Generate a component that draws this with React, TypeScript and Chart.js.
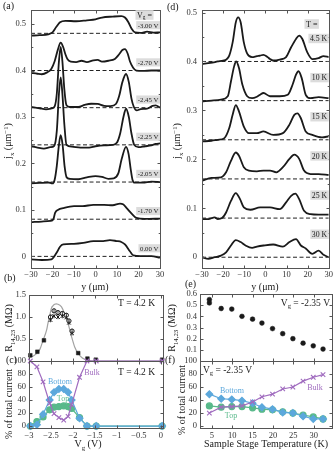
import React, { useEffect, useRef } from 'react';
import { Chart, registerables } from 'chart.js';

Chart.register(...registerables);

const PAGE_W = 335;
const PAGE_H = 453;
const FONT = "'Liberation Serif', 'Times New Roman', Times, serif";
const INK = '#1a1a1a';
const TICK_TEXT = '#333333';
const FRAME = '#555555';
const LABEL_BG = '#dcdcdc';
const PURPLE = '#a06cbf';
const BLUE = '#5ca8dc';
const GREEN = '#58b98a';
const FIT_GRAY = '#a3a3a3';

// ---------------- Panel (a): current density vs y for several gate voltages ----------------
const A_VG_LABELS = ['-3.00 V', '-2.70 V', '-2.45 V', '-2.25 V', '-2.05 V', '-1.70 V', '0.00 V'];
const A_OFFSETS = [0.48, 0.40, 0.32, 0.24, 0.16, 0.08, 0];
const JX_VG_M300 = [[-30,-0.005],[-26,-0.004],[-22,-0.002],[-20,0.002],[-18.2,0.014],[-16.5,0.024],[-14,0.027],[-9,0.026],[-4,0.028],[0,0.030],[3,0.034],[8,0.036],[12,0.037],[13.7,0.034],[15.3,0.024],[16.8,0.010],[18.4,0.002],[21,0.001],[24,0.0036],[27,0.0015],[30,0.002]];
const JX_VG_M270 = [[-30,-0.005],[-27,-0.007],[-25,-0.008],[-22.5,-0.004],[-20.5,0.004],[-19,0.02],[-17.5,0.045],[-16.2,0.06],[-15,0.05],[-14,0.035],[-13,0.024],[-11.5,0.019],[-9,0.018],[-6.5,0.021],[-4,0.018],[-1,0.022],[1,0.023],[3,0.019],[6,0.021],[9,0.025],[11,0.035],[12.5,0.044],[13.7,0.046],[15,0.036],[16,0.02],[17.5,0.006],[19,0],[22,-0.001],[26,0],[30,0]];
const JX_VG_M245 = [[-30,0.0015],[-26,-0.0015],[-23,-0.0035],[-20.5,-0.0015],[-19,0.003],[-18,0.03],[-17,0.1],[-16.2,0.131],[-15.4,0.1],[-14.5,0.04],[-13.5,0.005],[-12,0.0015],[-8,0.0015],[-5,0.006],[-2,0.0085],[1,0.008],[4,0.004],[7,0.0035],[9.5,0.008],[11,0.025],[12.5,0.055],[14.2,0.0725],[15.5,0.055],[16.7,0.02],[17.8,0.002],[19.2,-0.006],[21,-0.003],[24,-0.002],[26.5,0.004],[28,0.005],[30,0]];
const JX_VG_M225 = [[-30,-0.003],[-27,-0.006],[-24,-0.008],[-21,-0.005],[-19.2,-0.002],[-18,0.03],[-17,0.11],[-16.2,0.145],[-15.4,0.11],[-14.5,0.045],[-13.5,0],[-11,-0.004],[-7,-0.006],[-3,-0.006],[0,-0.003],[4,-0.001],[8,0],[10,0.005],[11.5,0.025],[13,0.06],[14.2,0.0777],[15.5,0.06],[16.7,0.025],[18,0],[20,-0.005],[23,-0.003],[26,-0.001],[28,0.002],[30,0.003]];
const JX_VG_M205 = [[-30,-0.003],[-26,-0.002],[-22,-0.001],[-20,-0.003],[-19,0.005],[-18,0.035],[-17,0.08],[-16.2,0.1007],[-15.3,0.08],[-14.4,0.035],[-13.4,0.01],[-12,0.007],[-8,0.006],[-4,0.01],[0,0.0128],[3,0.011],[6,0.007],[8.5,0.008],[10.6,0.0185],[12.2,0.05],[14.2,0.0757],[15.4,0.06],[16.3,0.03],[17.2,0.005],[18.2,-0.0014],[22,-0.0014],[26,0.0007],[30,0]];
const JX_VG_M170 = [[-30,-0.0064],[-25,-0.005],[-21,-0.0036],[-19.6,0],[-18.8,0.0135],[-17.3,0.0206],[-15,0.024],[-10,0.028],[-6,0.028],[-1,0.031],[4,0.031],[8,0.03],[11.4,0.0335],[12.8,0.032],[14.5,0.024],[16.8,0.012],[19,0.0028],[23,0.0006],[30,0.0013]];
const JX_VG_000 = [[-30,-0.0064],[-25,-0.0078],[-20.5,-0.0064],[-18.1,0.0078],[-16.5,0.0207],[-15,0.0256],[-10,0.027],[-5.7,0.029],[-1,0.033],[3.6,0.033],[6.7,0.035],[9.8,0.033],[12,0.031],[13.7,0.0256],[16,0.011],[17.6,0.002],[21,0.0007],[26,0.0007],[30,-0.0028]];
const A_CURVES = [JX_VG_M300, JX_VG_M270, JX_VG_M245, JX_VG_M225, JX_VG_M205, JX_VG_M170, JX_VG_000];
const A_X_RANGE = [-30, 30];
const A_Y_RANGE = [-0.025, 0.53];
const A_X_TICKS = [-30, -20, -10, 0, 10, 20, 30];
const A_Y_TICKS = [0, 0.1, 0.2, 0.3, 0.4, 0.5];
const A_Y_MINOR = [0.05, 0.15, 0.25, 0.35, 0.45];

// ---------------- Panel (d): current density vs y for several temperatures ----------------
const D_T_LABELS = ['4.5 K', '10 K', '15 K', '20 K', '25 K', '30 K'];
const D_OFFSETS = [0.40, 0.32, 0.24, 0.16, 0.08, 0];
const JX_T045 = [[-30,-0.005],[-26,-0.003],[-22.5,0],[-20,0.002],[-18.5,0.004],[-17.1,0.012],[-15.5,0.039],[-14,0.08],[-12.9,0.09],[-11.7,0.08],[-10.2,0.039],[-8.6,0.016],[-6.3,0.009],[-4,0.011],[-2.5,0.012],[-0.9,0.0136],[1,0.009],[2.2,0.005],[3.7,0.002],[6.8,0.004],[9.8,0.009],[12.2,0.029],[14.5,0.046],[16,0.053],[17.5,0.046],[19.8,0.019],[22.2,0.005],[25.2,0.007],[27.5,0.011],[30,0.009]];
const JX_T10 = [[-30,-0.0014],[-25.5,0],[-21,0.002],[-17.8,0.009],[-16.3,0.039],[-14.8,0.07],[-13.8,0.08],[-12.5,0.0665],[-10.9,0.033],[-8.6,0.009],[-6.3,0.005],[-4,0.008],[-2.5,0.012],[-0.9,0.0156],[2.2,0.009],[6.8,0.009],[10.6,0.012],[12.9,0.033],[14.5,0.053],[15.7,0.06],[17.2,0.046],[19.1,0.012],[21.4,0.005],[25.2,0.007],[30,0.005]];
const JX_T15 = [[-30,-0.0034],[-25.5,-0.002],[-22.5,0],[-19.4,0.0034],[-17.1,0.024],[-15.5,0.051],[-14,0.071],[-12.5,0.058],[-10.2,0.027],[-7.8,0.0136],[-4,0.0136],[-0.9,0.017],[3.7,0.010],[8.3,0.0136],[11.4,0.031],[13.7,0.051],[15.2,0.054],[16.8,0.044],[19.1,0.017],[22.2,0.010],[26.8,0.005],[30,0.007]];
const JX_T20 = [[-30,-0.0034],[-25.5,0.002],[-21,0.0034],[-18.6,0.0136],[-16.3,0.037],[-14,0.054],[-12.5,0.0475],[-10.2,0.024],[-7.8,0.017],[-4,0.0156],[-0.9,0.017],[2.2,0.017],[5.2,0.0136],[8.3,0.024],[11.4,0.041],[13.7,0.0496],[16,0.041],[18.3,0.017],[21.4,0.010],[25.2,0.010],[30,0.008]];
const JX_T25 = [[-30,-0.002],[-27,-0.002],[-24,0.0014],[-22.5,-0.002],[-20.5,0],[-18.6,0.0115],[-16.3,0.035],[-14,0.051],[-12,0.0387],[-10.2,0.0217],[-7.1,0.017],[-2.5,0.0217],[2.2,0.0217],[6.8,0.0183],[9.8,0.032],[12.2,0.0455],[14.2,0.050],[16,0.0387],[18.3,0.015],[21.4,0.008],[25.2,0.007],[30,0.007]];
const JX_T30 = [[-30,0],[-27,-0.0034],[-24,0],[-21,0.0034],[-18.6,0.010],[-16.3,0.024],[-14,0.035],[-11.7,0.031],[-9.4,0.024],[-6.3,0.019],[-4,0.0217],[-0.9,0.024],[3.7,0.026],[8.3,0.0217],[11.4,0.031],[14.5,0.037],[16.8,0.024],[19.1,0.018],[22.2,0.007],[25.2,0.0136],[27.5,0.005],[30,0]];
const D_CURVES = [JX_T045, JX_T10, JX_T15, JX_T20, JX_T25, JX_T30];
const D_X_RANGE = [-30, 30];
const D_Y_RANGE = [-0.022, 0.505];
const D_X_TICKS = [-30, -20, -10, 0, 10, 20, 30];
const D_Y_TICKS = [0, 0.1, 0.2, 0.3, 0.4, 0.5];
const D_Y_MINOR = [0.05, 0.15, 0.25, 0.35, 0.45];

// ---------------- Panel (b): resistance vs gate voltage ----------------
const B_SQ_VG = [-2.97, -2.81, -2.66, -1.88, -1.67, -1.48, 0.03];
const B_SQ_R = [0.13, 0.21, 0.47, 0.18, 0.055, 0.03, 0.03];
const B_CL_VG = [-2.51, -2.43, -2.34, -2.24, -2.15, -2.09, -2.02];
const B_CIRCLE_R = [1.0, 1.14, 1.10, 1.08, 1.04, 0.91, 0.68];
const B_CROSS_R = [0.93, 1.02, 1.0, 1.02, 0.99, 0.87, 0.63];
const B_ERR = 0.05;
const B_FIT_VG = [-3.0, -2.95, -2.85, -2.75, -2.68, -2.6, -2.57, -2.53, -2.49, -2.45, -2.415, -2.38, -2.34, -2.3, -2.26, -2.19, -2.11, -2.03, -1.96, -1.88, -1.8, -1.73, -1.65, -1.5, 0.05];
const B_FIT_R = [0.07, 0.09, 0.15, 0.27, 0.47, 0.7, 0.85, 1.03, 1.2, 1.26, 1.29, 1.3, 1.29, 1.27, 1.23, 1.08, 0.85, 0.55, 0.32, 0.17, 0.08, 0.04, 0.015, 0.0, 0.0];
const BC_X_RANGE = [-3, 0.05];
const B_Y_RANGE = [0, 1.5];
const BC_X_TICKS = [-3, -2.5, -2, -1.5, -1, -0.5, 0];
const B_Y_TICKS = [0.5, 1.0, 1.5];

// ---------------- Panel (c): current fractions vs gate voltage ----------------
const C_VG = [-2.97, -2.82, -2.68, -2.53, -2.43, -2.32, -2.21, -2.11, -2.03, -1.85, -1.68, -1.47, 0.03];
const C_BULK = [100, 91, 68, 35, 19, 13, 9, 15, 33, 75, 100, 100, 100];
const C_BOTTOM = [0, 2, 18, 40, 52, 57, 57, 52, 40, 12, 0, 0, 0];
const C_TOP = [0, 7, 14, 25, 29, 30, 31, 30, 27, 13, 0, 0, 0];
const C_Y_RANGE = [-3, 100];
const CF_Y_TICKS = [0, 20, 40, 60, 80, 100];

// ---------------- Panel (e): resistance vs temperature ----------------
const E_T = [4.4, 4.4, 7.3, 9.9, 12.4, 15.0, 17.3, 19.9, 22.4, 24.9, 27.4, 29.9, 32.3];
const E_R = [0.55, 0.52, 0.47, 0.465, 0.40, 0.375, 0.34, 0.29, 0.245, 0.20, 0.16, 0.136, 0.107];
const EF_X_RANGE = [2.1, 34.5];
const E_Y_RANGE = [0, 0.6];
const EF_X_TICKS = [5, 10, 15, 20, 25, 30];
const E_Y_TICKS = [0.1, 0.2, 0.3, 0.4, 0.5, 0.6];

// ---------------- Panel (f): current fractions vs temperature ----------------
const F_T = [4.4, 7.3, 9.9, 12.4, 15.0, 17.3, 19.9, 22.4, 24.9, 27.4, 29.9, 32.3];
const F_BOTTOM = [49, 42, 41, 39, 35, 29, 26, 21, 20, 15, 11, 11];
const F_TOP = [31, 29, 30, 30, 28, 26, 25, 22, 20, 17, 14, 11];
const F_BULK = [20, 29, 30, 31, 37, 45, 49, 57, 60, 69, 75, 79];
const F_Y_RANGE = [-3, 100];

// ---------------- helpers ----------------
const T = (t: string) => ({ t });
const SUB = (t: string) => ({ t, sub: true });
const SUP = (t: string) => ({ t, sup: true });

function drawRich(ctx: any, segs: any[], x: number, y: number, size: number, color: string, align: string, rot: number, bg?: string) {
  ctx.save();
  ctx.translate(x, y);
  if (rot) ctx.rotate(rot);
  const parts = segs.map((s) => {
    const fs = s.sub || s.sup ? size * 0.68 : size;
    ctx.font = `${fs}px ${FONT}`;
    return { s, fs, w: ctx.measureText(s.t).width };
  });
  const total = parts.reduce((a, p) => a + p.w, 0);
  let cx = align === 'center' ? -total / 2 : align === 'right' ? -total : 0;
  if (bg) {
    ctx.fillStyle = bg;
    ctx.fillRect(cx - 1.5, -size * 0.6, total + 3, size * 1.2);
  }
  ctx.textBaseline = 'alphabetic';
  ctx.textAlign = 'left';
  const base = size * 0.34;
  for (const p of parts) {
    ctx.font = `${p.fs}px ${FONT}`;
    ctx.fillStyle = p.s.color || color;
    const dy = p.s.sub ? size * 0.22 : p.s.sup ? -size * 0.38 : 0;
    ctx.fillText(p.s.t, cx, base + dy);
    cx += p.w;
  }
  ctx.restore();
}

const fmtSigned = (v: number) => (v < 0 ? '\u2212' + String(Math.abs(v)) : String(v));
const fmt1 = (v: number) => v.toFixed(1);
const fmtPlain = (v: number) => String(v);

function makeScale(axis: string, range: number[], ticks: number[], fmt: any, pad: number, size: number, showLabels = true) {
  return {
    type: 'linear',
    min: range[0],
    max: range[1],
    grid: { display: false, drawTicks: false },
    border: { display: false },
    ticks: {
      display: showLabels,
      autoSkip: false,
      maxRotation: 0,
      minRotation: 0,
      padding: pad,
      color: TICK_TEXT,
      font: { family: FONT, size: 8.5 },
      callback: (v: number) => fmt(v),
    },
    afterBuildTicks: (s: any) => {
      s.ticks = ticks.map((v) => ({ value: v }));
    },
    afterFit: (s: any) => {
      if (axis === 'x') s.height = size;
      else s.width = size;
    },
  };
}

function decorPlugin(d: any) {
  return {
    id: 'decor',
    afterDatasetsDraw(chart: any) {
      const { ctx, chartArea: ca } = chart;
      const xs = chart.scales.x;
      const ys = chart.scales.y;
      ctx.save();
      if (d.errBars) {
        for (const eb of d.errBars) {
          ctx.strokeStyle = INK;
          ctx.lineWidth = 0.8;
          ctx.beginPath();
          eb.xs.forEach((xv: number, i: number) => {
            const px = xs.getPixelForValue(xv);
            ctx.moveTo(px, ys.getPixelForValue(eb.ys[i] - eb.err));
            ctx.lineTo(px, ys.getPixelForValue(eb.ys[i] + eb.err));
          });
          ctx.stroke();
        }
      }
      const L = Math.round(ca.left) + 0.5;
      const R = Math.round(ca.right) + 0.5;
      const Tp = Math.round(ca.top) + 0.5;
      const B = Math.round(ca.bottom) + 0.5;
      ctx.strokeStyle = FRAME;
      ctx.lineWidth = 1;
      ctx.strokeRect(L, Tp, R - L, B - Tp);
      ctx.beginPath();
      const xt = (vals: number[], len: number) => {
        for (const v of vals) {
          const p = Math.round(xs.getPixelForValue(v)) + 0.5;
          if (p <= L + 1 || p >= R - 1) continue;
          ctx.moveTo(p, B); ctx.lineTo(p, B - len);
          ctx.moveTo(p, Tp); ctx.lineTo(p, Tp + len);
        }
      };
      const yt = (vals: number[], len: number) => {
        for (const v of vals) {
          const p = Math.round(ys.getPixelForValue(v)) + 0.5;
          if (p <= Tp + 1 || p >= B - 1) continue;
          ctx.moveTo(L, p); ctx.lineTo(L + len, p);
          ctx.moveTo(R, p); ctx.lineTo(R - len, p);
        }
      };
      xt(d.xTicks, 3);
      yt(d.yTicks, 3);
      if (d.yMinor) yt(d.yMinor, 1.8);
      ctx.stroke();
      for (const t of d.texts) {
        const [x, y] = t.at(chart);
        drawRich(ctx, t.segs, x, y, t.size, t.color || INK, t.align || 'left', t.rot || 0, t.bg);
      }
      ctx.restore();
    },
  };
}

// area: plot rectangle on the page; yw / xh: room given to the y labels / x labels
function baseConfig(area: any, yw: number, xh: number, scales: any, datasets: any[], decor: any) {
  return {
    type: 'scatter',
    data: { datasets },
    options: {
      responsive: false,
      animation: false,
      devicePixelRatio: 1,
      events: [],
      layout: {
        autoPadding: false,
        padding: {
          left: area.left - yw,
          right: PAGE_W - area.right,
          top: area.top,
          bottom: PAGE_H - area.bottom - xh,
        },
      },
      plugins: { legend: { display: false }, tooltip: { enabled: false }, title: { display: false } },
      scales,
    },
    plugins: [decorPlugin(decor)],
  };
}

const fixed = (x: number, y: number) => () => [x, y];
const ROT = -Math.PI / 2;
const JX_TITLE = [T('j'), SUB('x'), T(' (\u03bcm'), SUP('\u22121'), T(')')];
const R_TITLE = [T('R'), SUB('14,23'), T(' (M\u03a9)')];
const PCT_TITLE = [T('% of total current')];

function stackedCurves(curves: number[][][], offsets: number[], xr: number[]) {
  const dashes = offsets.map((off) => ({
    data: [{ x: xr[0], y: off }, { x: xr[1], y: off }],
    showLine: true,
    borderColor: '#222',
    borderWidth: 1,
    borderDash: [4, 2.5],
    pointRadius: 0,
  }));
  const lines = curves.map((c, i) => ({
    data: c.map(([x, j]) => ({ x, y: j + offsets[i] })),
    showLine: true,
    borderColor: INK,
    borderWidth: 1.8,
    pointRadius: 0,
    cubicInterpolationMode: 'monotone',
  }));
  return [...lines, ...dashes];
}

function configA() {
  const area = { left: 31, top: 10, right: 160, bottom: 268 };
  const texts: any[] = [
    { segs: [T('(a)')], at: fixed(3, 6), size: 10 },
    { segs: JX_TITLE, at: fixed(8, 141), size: 10, align: 'center', rot: ROT },
    { segs: [T('y (\u03bcm)')], at: fixed(95, 287), size: 10, align: 'center' },
    { segs: [T('V'), SUB('g'), T(' =')], at: fixed(137, 15), size: 8, bg: LABEL_BG },
    ...A_VG_LABELS.map((lab, i) => ({
      segs: [T(lab)],
      at: (c: any) => [c.chartArea.right - 1.5, c.scales.y.getPixelForValue(A_OFFSETS[i] + 0.0175)],
      size: 6.8,
      align: 'right',
      bg: LABEL_BG,
    })),
  ];
  return baseConfig(
    area, 18, 13,
    { x: makeScale('x', A_X_RANGE, A_X_TICKS, fmtSigned, 2, 13), y: makeScale('y', A_Y_RANGE, A_Y_TICKS, fmtPlain, 5, 18) },
    stackedCurves(A_CURVES, A_OFFSETS, A_X_RANGE),
    { xTicks: A_X_TICKS, yTicks: A_Y_TICKS, yMinor: A_Y_MINOR, texts },
  );
}

function configD() {
  const area = { left: 202, top: 10, right: 332, bottom: 268 };
  const texts: any[] = [
    { segs: [T('(d)')], at: fixed(167, 7), size: 10 },
    { segs: JX_TITLE, at: fixed(177, 141), size: 10, align: 'center', rot: ROT },
    { segs: [T('y (\u03bcm)')], at: fixed(265, 287), size: 10, align: 'center' },
    { segs: [T('T =')], at: fixed(306, 24), size: 8, bg: LABEL_BG },
    ...D_T_LABELS.map((lab, i) => ({
      segs: [T(lab)],
      at: (c: any) => [c.chartArea.right - 1.5, c.scales.y.getPixelForValue(D_OFFSETS[i] + 0.047)],
      size: 7.8,
      align: 'right',
      bg: LABEL_BG,
    })),
  ];
  return baseConfig(
    area, 18, 13,
    { x: makeScale('x', D_X_RANGE, D_X_TICKS, fmtSigned, 2, 13), y: makeScale('y', D_Y_RANGE, D_Y_TICKS, fmtPlain, 5, 18) },
    stackedCurves(D_CURVES, D_OFFSETS, D_X_RANGE),
    { xTicks: D_X_TICKS, yTicks: D_Y_TICKS, yMinor: D_Y_MINOR, texts },
  );
}

function configB() {
  const area = { left: 29, top: 295, right: 163, bottom: 361 };
  const texts: any[] = [
    { segs: [T('(b)')], at: fixed(4, 278), size: 10 },
    { segs: R_TITLE, at: fixed(9, 328), size: 10, align: 'center', rot: ROT },
    { segs: [T('T = 4.2 K')], at: fixed(118, 303), size: 9.5 },
  ];
  const datasets = [
    {
      data: B_SQ_VG.map((x, i) => ({ x, y: B_SQ_R[i] })),
      pointStyle: 'rect', pointRadius: 2.6, backgroundColor: INK, borderColor: INK, borderWidth: 0.5, clip: false,
    },
    {
      data: B_CL_VG.map((x, i) => ({ x, y: B_CIRCLE_R[i] })),
      pointStyle: 'circle', pointRadius: 2.1, backgroundColor: '#ffffff', borderColor: INK, borderWidth: 1,
    },
    {
      data: B_CL_VG.map((x, i) => ({ x, y: B_CROSS_R[i] })),
      pointStyle: 'crossRot', pointRadius: 2.6, borderColor: INK, borderWidth: 1,
    },
    {
      data: B_FIT_VG.map((x, i) => ({ x, y: B_FIT_R[i] })),
      showLine: true, borderColor: FIT_GRAY, borderWidth: 1.2, pointRadius: 0, cubicInterpolationMode: 'monotone',
    },
  ];
  return baseConfig(
    area, 16, 4,
    { x: makeScale('x', BC_X_RANGE, BC_X_TICKS, fmtSigned, 2, 4, false), y: makeScale('y', B_Y_RANGE, B_Y_TICKS, fmt1, 3, 16) },
    datasets,
    {
      xTicks: BC_X_TICKS, yTicks: B_Y_TICKS, texts,
      errBars: [
        { xs: B_CL_VG, ys: B_CIRCLE_R, err: B_ERR },
        { xs: B_CL_VG, ys: B_CROSS_R, err: B_ERR },
      ],
    },
  );
}

function fractionSets(xs: number[], bulk: number[], bottom: number[], top: number[]) {
  return [
    {
      data: xs.map((x, i) => ({ x, y: bulk[i] })),
      showLine: true, borderColor: PURPLE, borderWidth: 1.2,
      pointStyle: 'crossRot', pointRadius: 3.2, pointBorderColor: PURPLE, pointBorderWidth: 1.1, clip: false,
    },
    {
      data: xs.map((x, i) => ({ x, y: bottom[i] })),
      showLine: true, borderColor: BLUE, borderWidth: 1.2,
      pointStyle: 'rectRot', pointRadius: 3.4, pointBackgroundColor: BLUE, pointBorderColor: BLUE, clip: false,
    },
    {
      data: xs.map((x, i) => ({ x, y: top[i] })),
      showLine: true, borderColor: GREEN, borderWidth: 1.2,
      pointStyle: 'circle', pointRadius: 3, pointBackgroundColor: GREEN, pointBorderColor: GREEN, clip: false,
    },
  ];
}

function configC() {
  const area = { left: 29, top: 361, right: 163, bottom: 428 };
  const texts: any[] = [
    { segs: [T('(c)')], at: fixed(6, 360), size: 10 },
    { segs: PCT_TITLE, at: fixed(9, 404), size: 10, align: 'center', rot: ROT },
    { segs: [T('V'), SUB('g'), T(' (V)')], at: fixed(88, 444), size: 10, align: 'center' },
    { segs: [T('Bulk')], at: fixed(92, 372), size: 8, align: 'center', color: PURPLE },
    { segs: [T('T = 4.2 K')], at: fixed(118, 372), size: 9.5 },
    { segs: [T('Bottom')], at: fixed(60, 381), size: 8, align: 'center', color: BLUE },
    { segs: [T('Top')], at: fixed(63, 398), size: 8, align: 'center', color: GREEN },
  ];
  return baseConfig(
    area, 16, 13,
    { x: makeScale('x', BC_X_RANGE, BC_X_TICKS, fmtSigned, 3, 13), y: makeScale('y', C_Y_RANGE, CF_Y_TICKS, fmtPlain, 3, 16) },
    fractionSets(C_VG, C_BULK, C_BOTTOM, C_TOP),
    { xTicks: BC_X_TICKS, yTicks: CF_Y_TICKS, texts },
  );
}

function configE() {
  const area = { left: 200, top: 294, right: 332, bottom: 361 };
  const texts: any[] = [
    { segs: [T('(e)')], at: fixed(185, 284), size: 10 },
    { segs: R_TITLE, at: fixed(172, 328), size: 10, align: 'center', rot: ROT },
    { segs: [T('V'), SUB('g'), T(' = -2.35 V')], at: fixed(330, 303), size: 9.5, align: 'right' },
  ];
  const datasets = [
    {
      data: E_T.map((x, i) => ({ x, y: E_R[i] })),
      pointStyle: 'circle', pointRadius: 2.4, backgroundColor: INK, borderColor: INK, borderWidth: 0.5,
    },
  ];
  return baseConfig(
    area, 16, 4,
    { x: makeScale('x', EF_X_RANGE, EF_X_TICKS, fmtPlain, 3, 4, false), y: makeScale('y', E_Y_RANGE, E_Y_TICKS, fmt1, 3, 16) },
    datasets,
    { xTicks: EF_X_TICKS, yTicks: E_Y_TICKS, texts },
  );
}

function configF() {
  const area = { left: 200, top: 361, right: 332, bottom: 428 };
  const texts: any[] = [
    { segs: [T('(f)')], at: fixed(165, 360), size: 10 },
    { segs: PCT_TITLE, at: fixed(182, 400), size: 10, align: 'center', rot: ROT },
    { segs: [T('Sample Stage Temperature (K)')], at: fixed(266, 444), size: 10, align: 'center' },
    { segs: [T('V'), SUB('g'), T(' = -2.35 V')], at: fixed(203, 370), size: 9.5 },
    { segs: [T('Bottom')], at: fixed(232, 390), size: 8, align: 'center', color: BLUE },
    { segs: [T('Top')], at: fixed(231, 415), size: 8, align: 'center', color: GREEN },
    { segs: [T('Bulk')], at: fixed(315, 387), size: 8, align: 'center', color: PURPLE },
  ];
  return baseConfig(
    area, 16, 13,
    { x: makeScale('x', EF_X_RANGE, EF_X_TICKS, fmtPlain, 3, 13), y: makeScale('y', F_Y_RANGE, CF_Y_TICKS, fmtPlain, 3, 16) },
    fractionSets(F_T, F_BULK, F_BOTTOM, F_TOP),
    { xTicks: EF_X_TICKS, yTicks: CF_Y_TICKS, texts },
  );
}

const BUILDERS = [configA, configD, configB, configC, configE, configF];

export default function App() {
  const canvases = useRef<(HTMLCanvasElement | null)[]>([]);
  useEffect(() => {
    const charts = BUILDERS.map((b, i) => new Chart(canvases.current[i] as any, b() as any));
    return () => charts.forEach((c) => c.destroy());
  }, []);
  return (
    <div style={{ position: 'fixed', left: 0, top: 0, width: PAGE_W, height: PAGE_H, background: '#ffffff', overflow: 'hidden' }}>
      {BUILDERS.map((_, i) => (
        <canvas
          key={i}
          ref={(el) => { canvases.current[i] = el; }}
          width={PAGE_W}
          height={PAGE_H}
          style={{ position: 'absolute', left: 0, top: 0, width: PAGE_W, height: PAGE_H }}
        />
      ))}
    </div>
  );
}
